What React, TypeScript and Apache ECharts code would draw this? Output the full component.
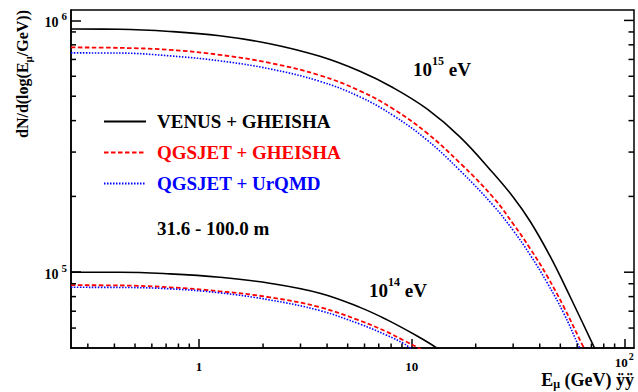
import React, { useEffect, useRef } from 'react';
import * as echarts from 'echarts';

const FONT = "'Liberation Serif', 'Times New Roman', serif";

const X_MIN = 0.25;
const X_MAX = 111;
const Y_MIN = 5e4;
const Y_MAX = 1.1e6;

const legendNames = ['VENUS + GHEISHA', 'QGSJET + GHEISHA', 'QGSJET + UrQMD'];
const legendColors = ['#000000', '#ff0000', '#0000ff'];

// 10^15 eV primaries
const venus15E = [0.25, 0.424, 0.729, 1.25, 2.15, 3.7, 5.71, 8.19, 11.8, 16.9, 24.2, 30.1, 36.1, 44.8, 55.6, 71.6, 74];
const venus15N = [9.24e5, 9.22e5, 9.04e5, 8.69e5, 8.08e5, 7.2e5, 6.28e5, 5.4e5, 4.45e5, 3.44e5, 2.47e5, 1.98e5, 1.59e5, 1.155e5, 7.99e4, 5.1e4, 4.8e4];

const qgsGh15E = [0.25, 0.424, 0.729, 1.25, 2.15, 3.7, 5.71, 8.19, 11.8, 16.9, 24.2, 30.1, 36.1, 43.2, 51.7, 63.2, 65.5];
const qgsGh15N = [7.81e5, 7.78e5, 7.64e5, 7.3e5, 6.78e5, 6.05e5, 5.25e5, 4.45e5, 3.57e5, 2.71e5, 1.98e5, 1.55e5, 1.24e5, 9.7e4, 7.33e4, 5.18e4, 4.9e4];

const qgsUr15E = [0.25, 0.424, 0.729, 1.25, 2.15, 3.7, 5.71, 8.19, 11.8, 16.9, 24.2, 30.1, 36.1, 43.2, 51.7, 60.9, 62.5];
const qgsUr15N = [7.43e5, 7.42e5, 7.23e5, 6.91e5, 6.42e5, 5.73e5, 4.97e5, 4.19e5, 3.35e5, 2.53e5, 1.84e5, 1.46e5, 1.17e5, 9.13e4, 6.91e4, 5.11e4, 4.9e4];

// 10^14 eV primaries
const venus14E = [0.25, 0.424, 0.729, 1.25, 2.15, 3.7, 5.71, 7.63, 10.56, 13.11, 13.5];
const venus14N = [1.0e5, 1.0e5, 9.85e4, 9.55e4, 9.04e4, 8.25e4, 7.25e4, 6.48e4, 5.59e4, 5.0e4, 4.85e4];

const qgsGh14E = [0.25, 0.424, 0.729, 1.25, 2.15, 3.7, 5.71, 7.63, 9.13, 10.74, 11.2];
const qgsGh14N = [8.88e4, 8.86e4, 8.71e4, 8.4e4, 7.95e4, 7.26e4, 6.42e4, 5.8e4, 5.37e4, 5.0e4, 4.88e4];

const qgsUr14E = [0.25, 0.424, 0.729, 1.25, 2.15, 3.7, 5.71, 7.63, 9.13, 9.85, 10.3];
const qgsUr14N = [8.71e4, 8.7e4, 8.59e4, 8.28e4, 7.76e4, 7.04e4, 6.22e4, 5.62e4, 5.22e4, 5.0e4, 4.88e4];

const xMinorTicks = [0.3, 0.4, 0.5, 0.6, 0.7, 0.8, 0.9, 2, 3, 4, 5, 6, 7, 8, 9, 20, 30, 40, 50, 60, 70, 80, 90];
const yMinorTicks = [6e4, 7e4, 8e4, 9e4, 2e5, 3e5, 4e5, 5e5, 6e5, 7e5, 8e5, 9e5];
const yMajorTicks = [1e5, 1e6];

const energyLabel15 = '{b|10}{s|15}{b| eV}';
const energyLabel14 = '{b|10}{s|14}{b| eV}';
const radiusLabel = '31.6 - 100.0 m';
const xTitle = '{b|E}{u|\u03bc}{b| (GeV) \u00ff\u00ff}';
const yTitle = '{b|dN/d(log(E}{u|\u03bc}{b|/GeV))}';

const pairs = (xs: number[], ys: number[]) => xs.map((x, i) => [x, ys[i]]);

const powerOf10 = (v: number) => {
  const l = Math.log10(v);
  const e = Math.round(l);
  return Math.abs(l - e) < 1e-6 ? e : null;
};

const tickLine = (x1: number, y1: number, x2: number, y2: number) => ({
  type: 'line',
  shape: { x1, y1, x2, y2 },
  style: { stroke: '#000', lineWidth: 1.5 },
});

const lineSeries = (name: string, data: number[][], color: string, width: number, type: any) => ({
  name,
  type: 'line',
  data,
  symbol: 'none',
  showSymbol: false,
  smooth: 0.4,
  lineStyle: { color, width, type },
  itemStyle: { color },
  z: 3,
});

export default function App() {
  const ref = useRef<HTMLDivElement>(null);

  useEffect(() => {
    document.body.style.margin = '0';
    if (!ref.current) return;
    const chart = echarts.init(ref.current, null, { renderer: 'svg' });

    const boldRich = (size: number) => ({ fontFamily: FONT, fontWeight: 'bold', fontSize: size, color: '#000' });

    const option: any = {
      animation: false,
      backgroundColor: '#fff',
      textStyle: { fontFamily: FONT },
      grid: {
        left: 71,
        right: 4,
        top: 10,
        bottom: 44,
        show: true,
        borderColor: '#000',
        borderWidth: 1.5,
        backgroundColor: 'transparent',
      },
      legend: {
        show: true,
        orient: 'vertical',
        left: 98,
        top: 107,
        itemWidth: 42,
        itemHeight: 14,
        itemGap: 12,
        selectedMode: false,
        itemStyle: { color: 'rgba(0,0,0,0)', borderColor: 'rgba(0,0,0,0)', borderWidth: 0 },
        textStyle: { fontFamily: FONT, fontWeight: 'bold', fontSize: 19, padding: [0, 0, 0, 6] },
        data: legendNames.map((n, i) => ({ name: n, textStyle: { color: legendColors[i] } })),
      },
      xAxis: {
        type: 'log',
        logBase: 10,
        min: X_MIN,
        max: X_MAX,
        splitLine: { show: false },
        axisLine: { show: true, lineStyle: { color: '#000', width: 1.5 } },
        axisTick: { show: true, inside: true, length: 9, lineStyle: { color: '#000', width: 1.5 } },
        axisLabel: {
          show: true,
          showMinLabel: false,
          showMaxLabel: false,
          margin: 3,
          color: '#000',
          formatter: (v: number) => {
            const e = powerOf10(v);
            if (e === null) return '';
            if (e === 0) return '{b|1}';
            if (e === 1) return '{b|10}';
            return '{c|10}{s|' + e + '}';
          },
          rich: {
            b: { ...boldRich(13), verticalAlign: 'top', padding: [9, 0, 0, 0] },
            c: { ...boldRich(13), verticalAlign: 'top', padding: [5, 0, 0, 0] },
            s: { ...boldRich(10), verticalAlign: 'top', padding: [0, 0, 0, 1] },
          },
        },
      },
      yAxis: {
        type: 'log',
        logBase: 10,
        min: Y_MIN,
        max: Y_MAX,
        splitLine: { show: false },
        axisLine: { show: true, lineStyle: { color: '#000', width: 1.5 } },
        axisTick: { show: true, inside: true, length: 10, lineStyle: { color: '#000', width: 1.5 } },
        axisLabel: {
          show: true,
          showMinLabel: false,
          showMaxLabel: false,
          margin: 4,
          color: '#000',
          formatter: (v: number) => {
            const e = powerOf10(v);
            if (e === null) return '';
            return '{b|10}{s|' + e + '}';
          },
          rich: {
            b: { ...boldRich(14), verticalAlign: 'top', padding: [5, 0, 0, 0] },
            s: { ...boldRich(11), verticalAlign: 'top', padding: [0, 0, 0, 3] },
          },
        },
      },
      graphic: [
        {
          type: 'text',
          x: 23.5,
          y: 10,
          rotation: Math.PI / 2,
          style: {
            text: yTitle,
            align: 'right',
            verticalAlign: 'middle',
            textAlign: 'right',
            textVerticalAlign: 'middle',
            rich: {
              b: { ...boldRich(16), verticalAlign: 'top' },
              u: { ...boldRich(11), verticalAlign: 'top', padding: [8, 0, 0, 0] },
            },
          },
        },
        {
          type: 'text',
          x: 634,
          y: 371,
          style: {
            text: xTitle,
            align: 'right',
            verticalAlign: 'top',
            textAlign: 'right',
            textVerticalAlign: 'top',
            rich: {
              b: { ...boldRich(18), verticalAlign: 'top' },
              u: { ...boldRich(12), verticalAlign: 'top', padding: [7, 0, 0, 0] },
            },
          },
        },
        {
          type: 'text',
          x: 413,
          y: 55,
          style: {
            text: energyLabel15,
            align: 'left',
            verticalAlign: 'top',
            textAlign: 'left',
            textVerticalAlign: 'top',
            rich: {
              b: { ...boldRich(19), verticalAlign: 'top', padding: [5, 0, 0, 0] },
              s: { ...boldRich(12), verticalAlign: 'top' },
            },
          },
        },
        {
          type: 'text',
          x: 369,
          y: 275.5,
          style: {
            text: energyLabel14,
            align: 'left',
            verticalAlign: 'top',
            textAlign: 'left',
            textVerticalAlign: 'top',
            rich: {
              b: { ...boldRich(19), verticalAlign: 'top', padding: [5, 0, 0, 0] },
              s: { ...boldRich(12), verticalAlign: 'top' },
            },
          },
        },
        {
          type: 'text',
          x: 157,
          y: 228,
          style: {
            text: radiusLabel,
            fill: '#000',
            font: 'bold 19px ' + FONT,
            fontFamily: FONT,
            fontWeight: 'bold',
            fontSize: 19,
            align: 'left',
            verticalAlign: 'middle',
            textAlign: 'left',
            textVerticalAlign: 'middle',
          },
        },
      ],
      series: [
        lineSeries(legendNames[0], pairs(venus15E, venus15N), legendColors[0], 1.6, 'solid'),
        lineSeries(legendNames[1], pairs(qgsGh15E, qgsGh15N), legendColors[1], 1.8, [4.5, 2.5]),
        lineSeries(legendNames[2], pairs(qgsUr15E, qgsUr15N), legendColors[2], 1.6, [1.5, 1.5]),
        lineSeries(legendNames[0], pairs(venus14E, venus14N), legendColors[0], 1.6, 'solid'),
        lineSeries(legendNames[1], pairs(qgsGh14E, qgsGh14N), legendColors[1], 1.8, [4.5, 2.5]),
        lineSeries(legendNames[2], pairs(qgsUr14E, qgsUr14N), legendColors[2], 1.6, [1.5, 1.5]),
        {
          type: 'custom',
          name: 'xMinorTicks',
          silent: true,
          z: 5,
          data: xMinorTicks.map((v) => [v, Y_MIN]),
          renderItem: (_p: any, api: any) => {
            const c = api.coord([api.value(0), api.value(1)]);
            return tickLine(c[0], c[1], c[0], c[1] - 4.5);
          },
        },
        {
          type: 'custom',
          name: 'yMinorTicksLeft',
          silent: true,
          z: 5,
          data: yMinorTicks.map((v) => [X_MIN, v]),
          renderItem: (_p: any, api: any) => {
            const c = api.coord([api.value(0), api.value(1)]);
            return tickLine(c[0], c[1], c[0] + 5, c[1]);
          },
        },
        {
          type: 'custom',
          name: 'yTicksRight',
          silent: true,
          z: 5,
          data: [
            ...yMinorTicks.map((v) => [X_MAX, v, 5.5]),
            ...yMajorTicks.map((v) => [X_MAX, v, 10]),
          ],
          renderItem: (_p: any, api: any) => {
            const c = api.coord([api.value(0), api.value(1)]);
            return tickLine(c[0] - api.value(2), c[1], c[0], c[1]);
          },
        },
      ],
    };

    chart.setOption(option);
    return () => chart.dispose();
  }, []);

  return <div ref={ref} style={{ width: 638, height: 392 }} />;
}
